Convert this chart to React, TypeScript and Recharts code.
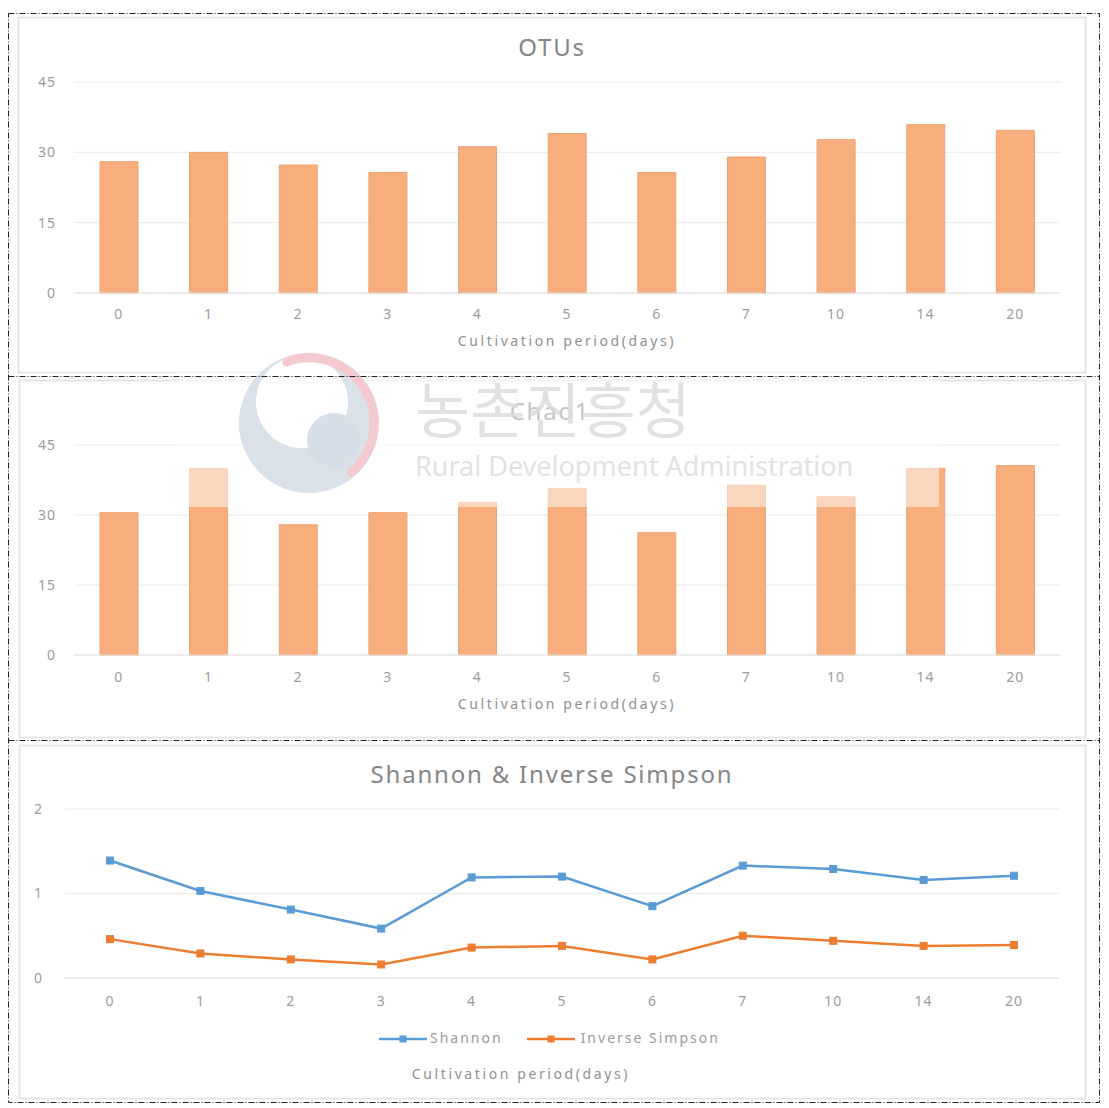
import React from 'react';
import { BarChart, Bar, LineChart, Line, XAxis, YAxis, CartesianGrid } from 'recharts';

const categories = ['0', '1', '2', '3', '4', '5', '6', '7', '10', '14', '20'];
const otus = [28, 30, 27.3, 25.7, 31.2, 34, 25.7, 29, 32.7, 35.9, 34.7];
const chao1 = [30.5, 40, 27.9, 30.5, 32.7, 35.7, 26.2, 36.4, 33.9, 40, 40.6];
const shannon = [1.39, 1.03, 0.81, 0.585, 1.19, 1.2, 0.85, 1.33, 1.29, 1.16, 1.21];
const inverseSimpson = [0.46, 0.29, 0.22, 0.16, 0.36, 0.38, 0.22, 0.5, 0.44, 0.38, 0.39];
const barTicks = [0, 15, 30, 45];
const lineTicks = [0, 1, 2];
const xAxisTitle = 'Cultivation period(days)';

const otuData = categories.map((day, i) => ({ day, value: otus[i] }));
const chaoData = categories.map((day, i) => ({ day, value: chao1[i] }));
const lineData = categories.map((day, i) => ({ day, shannon: shannon[i], inv: inverseSimpson[i] }));

const FONT = '"Noto Sans", "Open Sans", sans-serif';
const TICK = { fill: '#9C9C9C', fontSize: 14, fontFamily: FONT, letterSpacing: 1 };
const BAR_COLOR = '#F7AD7C';
const BLUE = '#5B9BD5';
const ORANGE = '#ED7D31';

const abs = (left: number, top: number, extra: any = {}) => ({ position: 'absolute' as const, left, top, ...extra });

function Title({ text, cx, cy, size = 24 }: { text: string; cx: number; cy: number; size?: number }) {
  return (
    <div style={abs(cx - 300, cy - size * 0.7, { width: 600, textAlign: 'center', fontFamily: FONT, fontSize: size, letterSpacing: 1.8, color: '#858585', lineHeight: `${size * 1.4}px` })}>
      {text}
    </div>
  );
}

function AxisTitle({ cx, cy }: { cx: number; cy: number }) {
  return (
    <div style={abs(cx - 200, cy - 10, { width: 400, textAlign: 'center', fontFamily: FONT, fontSize: 14, letterSpacing: 2.6, color: '#8F8F8F', lineHeight: '20px' })}>
      {xAxisTitle}
    </div>
  );
}

function BarPanel({ data, left, top, width, height, bottomMargin, yWidth, tickMargin }: any) {
  return (
    <div style={abs(left, top)}>
      <BarChart width={width} height={height} data={data} margin={{ top: 65, right: 26, left: 0, bottom: bottomMargin }}>
        <CartesianGrid vertical={false} stroke="#EBEBEB" />
        <XAxis dataKey="day" height={30} tickLine={false} tickSize={0} tickMargin={tickMargin} axisLine={{ stroke: '#E2E2E2' }} tick={TICK} interval={0} />
        <YAxis width={yWidth} domain={[0, 45]} ticks={barTicks} tickLine={false} tickSize={0} tickMargin={18} axisLine={false} tick={TICK} />
        <Bar dataKey="value" fill={BAR_COLOR} stroke="#EDA374" strokeWidth={1} barSize={38} isAnimationActive={false} />
      </BarChart>
    </div>
  );
}

const SquareDot = (color: string) => (props: any) => {
  const { cx, cy, index } = props;
  if (cx == null || cy == null) return <g key={index} />;
  return <rect key={index} x={cx - 3.5} y={cy - 3.5} width={7} height={7} fill={color} stroke={color} />;
};

function LegendIcon({ color }: { color: string }) {
  return (
    <svg width={48} height={10} style={{ display: 'inline-block', verticalAlign: 'middle' }}>
      <line x1={0} y1={5} x2={48} y2={5} stroke={color} strokeWidth={2.5} />
      <rect x={20.5} y={1.5} width={7} height={7} fill={color} />
    </svg>
  );
}

export default function App() {
  return (
    <div style={{ position: 'absolute', left: 0, top: 0, width: 1109, height: 1108, background: '#fff', overflow: 'hidden' }}>
      {/* panel frames */}
      <svg width={1109} height={1108} style={abs(0, 0)}>
        <rect x={18.5} y={17.5} width={1067} height={355} fill="#fff" stroke="#E6E6E6" strokeWidth={2} />
        <rect x={19.5} y={380.5} width={1066} height={357} fill="#fff" stroke="#E6E6E6" strokeWidth={2} />
        <rect x={19.5} y={745.5} width={1066} height={353} fill="#fff" stroke="#E6E6E6" strokeWidth={2} />
      </svg>

      {/* Panel 1: OTUs */}
      <BarPanel data={otuData} left={18} top={17} width={1068} height={355} bottomMargin={49} yWidth={56} tickMargin={16} />
      <Title text="OTUs" cx={552} cy={47} />
      <AxisTitle cx={567} cy={341} />

      {/* Panel 2: Chao1 */}
      <BarPanel data={chaoData} left={19} top={380} width={1067} height={357} bottomMargin={52} yWidth={55} tickMargin={17} />
      <Title text="Chao1" cx={550} cy={411} />
      <AxisTitle cx={567} cy={704} />

      {/* Panel 3: Shannon & Inverse Simpson */}
      <div style={abs(19, 745)}>
        <LineChart width={1067} height={353} data={lineData} margin={{ top: 64, right: 27, left: 0, bottom: 90 }}>
          <CartesianGrid vertical={false} stroke="#EBEBEB" />
          <XAxis dataKey="day" height={30} padding={{ left: 45, right: 45 }} tickLine={false} tickSize={0} tickMargin={18} axisLine={{ stroke: '#E2E2E2' }} tick={TICK} interval={0} />
          <YAxis width={46} domain={[0, 2]} ticks={lineTicks} tickLine={false} tickSize={0} tickMargin={22} axisLine={false} tick={TICK} />
          <Line dataKey="shannon" stroke={BLUE} strokeWidth={2.5} dot={SquareDot(BLUE)} isAnimationActive={false} />
          <Line dataKey="inv" stroke={ORANGE} strokeWidth={2.5} dot={SquareDot(ORANGE)} isAnimationActive={false} />
        </LineChart>
      </div>
      <Title text="Shannon & Inverse Simpson" cx={552} cy={774} />
      <div style={abs(379, 1028, { fontFamily: FONT, fontSize: 14, letterSpacing: 2, color: '#9A9A9A', whiteSpace: 'nowrap', lineHeight: '20px' })}>
        <LegendIcon color={BLUE} />
        <span style={{ marginLeft: 3, marginRight: 24 }}>Shannon</span>
        <LegendIcon color={ORANGE} />
        <span style={{ marginLeft: 6 }}>Inverse Simpson</span>
      </div>
      <AxisTitle cx={521} cy={1074} />

      {/* watermark */}
      <div style={abs(175, 372, { width: 764, height: 135, background: 'rgba(255,255,255,0.5)' })} />
      <svg width={1109} height={1108} style={abs(0, 0, { pointerEvents: 'none' })}>
        <circle cx={309} cy={423} r={70} fill="#D6DEE7" opacity={0.9} />
        <circle cx={302} cy={402} r={46} fill="#fff" />
        <circle cx={334} cy={440} r={27} fill="#D6DEE7" />
        <path d="M 286.8 361.9 A 65 65 0 0 1 350.8 472.8" fill="none" stroke="#F5C9D0" strokeWidth={9} strokeLinecap="round" />
        <text x={415} y={433} fontFamily='"Noto Sans CJK KR", sans-serif' fontSize={60} fill="#DADADA" opacity={0.8}>농촌진흥청</text>
        <text x={415} y={476} fontFamily={FONT} fontSize={27} fill="#DDDDDD" opacity={0.85}>Rural Development Administration</text>
      </svg>

      {/* outer dash-dot borders */}
      <svg width={1109} height={1108} style={abs(0, 0, { pointerEvents: 'none' })}>
        <rect x={8.5} y={13.5} width={1091} height={1089} fill="none" stroke="#222" strokeWidth={1} strokeDasharray="6 2 1 2" />
        <line x1={8.5} y1={376.5} x2={1099.5} y2={376.5} stroke="#222" strokeWidth={1} strokeDasharray="6 2 1 2" />
        <line x1={8.5} y1={740.5} x2={1099.5} y2={740.5} stroke="#222" strokeWidth={1} strokeDasharray="6 2 1 2" />
      </svg>
    </div>
  );
}
